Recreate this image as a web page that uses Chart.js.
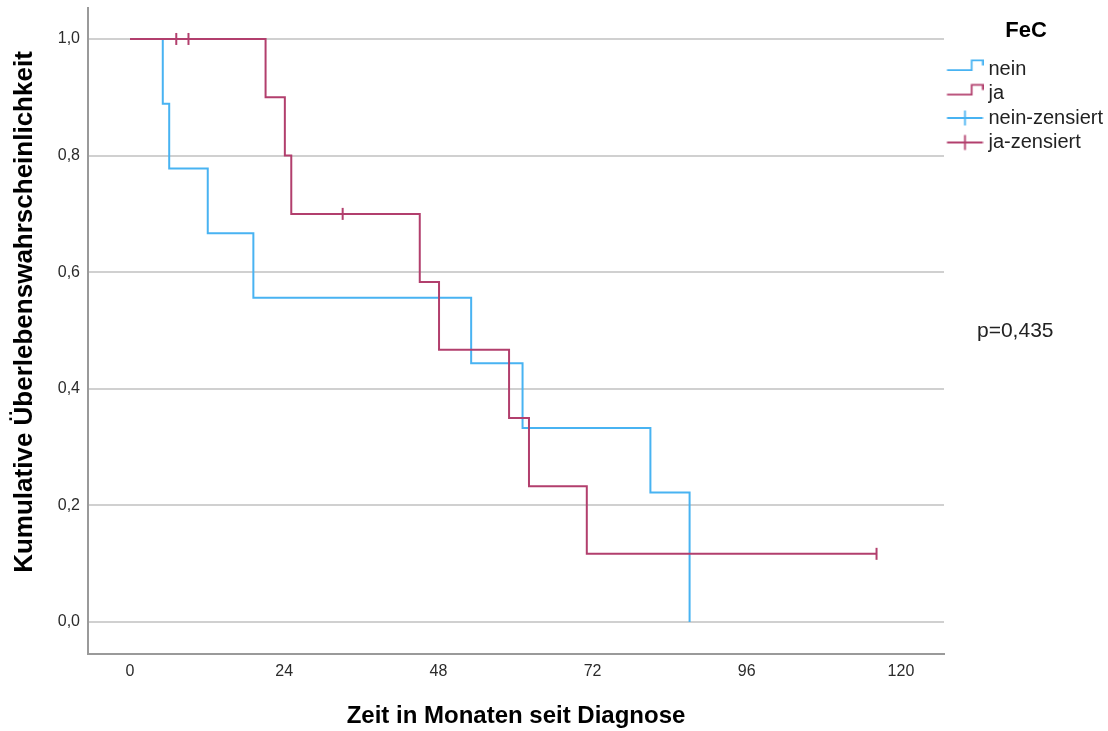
<!DOCTYPE html>
<html lang="de">
<head>
<meta charset="utf-8">
<title>Überlebensfunktionen nach FeC</title>
<script src="https://cdn.jsdelivr.net/npm/chart.js@4.4.1/dist/chart.umd.min.js"></script>
<style>
  html, body { margin: 0; padding: 0; background: #ffffff; }
  #wrap { width: 1108px; height: 731px; }
</style>
</head>
<body>
<div id="wrap"><canvas id="km" width="1108" height="731"></canvas></div>
<script>
// Gruppe "nein": Ereigniszeitpunkte (Monate) und kumulatives Überleben nach jedem Schritt
const neinTimes = [0, 5.1, 6.1, 12.1, 19.2, 53.1, 61.1, 81.0, 87.1];
const neinSurvival = [1, 0.889, 0.778, 0.667, 0.556, 0.444, 0.333, 0.222, 0];
const neinCensoredTimes = [];
const neinCensoredSurvival = [];

// Gruppe "ja"
const jaTimes = [0, 21.1, 24.1, 25.1, 45.1, 48.1, 59.0, 62.1, 71.1, 116.2];
const jaSurvival = [1, 0.9, 0.8, 0.7, 0.583, 0.467, 0.35, 0.233, 0.117, 0.117];
const jaCensoredTimes = [7.2, 9.1, 33.1, 116.2];
const jaCensoredSurvival = [1, 1, 0.7, 0.117];

// Achsen
const xTickValues = [0, 24, 48, 72, 96, 120];
const yTickValues = [0, 0.2, 0.4, 0.6, 0.8, 1.0];
const xTitle = 'Zeit in Monaten seit Diagnose';
const yTitle = 'Kumulative Überlebenswahrscheinlichkeit';
const legendTitle = 'FeC';
const legendLabels = ['nein', 'ja', 'nein-zensiert', 'ja-zensiert'];
const pValueText = 'p=0,435';

const COLOR_NEIN = '#48B3F2';
const COLOR_JA = '#B23F6D';
const FONT = '"Liberation Sans", Arial, Helvetica, sans-serif';

function toPoints(xs, ys) {
  return xs.map((x, i) => ({ x: x, y: ys[i] }));
}

// Legendensymbol für eine Treppenkurve
function stepIcon(color) {
  const c = document.createElement('canvas');
  c.width = 40; c.height = 24;
  const g = c.getContext('2d');
  g.strokeStyle = color;
  g.lineWidth = 1.8;
  g.beginPath();
  g.moveTo(3.5, 13.2);
  g.lineTo(28.2, 13.2);
  g.lineTo(28.2, 3.4);
  g.lineTo(39.3, 3.4);
  g.lineTo(39.3, 8.6);
  g.stroke();
  return c;
}

// Legendensymbol für zensierte Fälle
function censorIcon(color) {
  const c = document.createElement('canvas');
  c.width = 40; c.height = 24;
  const g = c.getContext('2d');
  g.strokeStyle = color;
  g.lineWidth = 1.8;
  g.beginPath();
  g.moveTo(3.5, 12);
  g.lineTo(39.3, 12);
  g.moveTo(21.5, 4.5);
  g.lineTo(21.5, 19.5);
  g.stroke();
  return c;
}

// Achsentitel links und p-Wert rechts neben dem Diagramm
const annotations = {
  id: 'kmAnnotations',
  afterDraw(chart) {
    const { ctx, chartArea } = chart;
    ctx.save();
    ctx.fillStyle = '#000000';
    ctx.font = 'bold 26px ' + FONT;
    ctx.textAlign = 'center';
    ctx.textBaseline = 'middle';
    ctx.translate(25, (chartArea.top + chartArea.bottom) / 2 - 19);
    ctx.rotate(-Math.PI / 2);
    ctx.fillText(yTitle, 0, 0);
    ctx.restore();

    ctx.save();
    ctx.fillStyle = '#222222';
    ctx.font = '21px ' + FONT;
    ctx.textAlign = 'left';
    ctx.textBaseline = 'middle';
    ctx.fillText(pValueText, chartArea.right + 33, 331);
    ctx.restore();
  }
};

const lineBase = {
  showLine: true,
  stepped: 'before',
  borderWidth: 2,
  pointRadius: 0,
  pointHoverRadius: 0,
  fill: false
};

const censorBase = {
  showLine: false,
  pointStyle: 'line',
  rotation: 90,
  pointRadius: 6,
  pointHoverRadius: 6,
  pointBorderWidth: 2
};

new Chart(document.getElementById('km'), {
  type: 'scatter',
  data: {
    datasets: [
      Object.assign({}, lineBase, {
        label: 'ja', data: toPoints(jaTimes, jaSurvival), borderColor: COLOR_JA
      }),
      Object.assign({}, censorBase, {
        label: 'ja-zensiert', data: toPoints(jaCensoredTimes, jaCensoredSurvival),
        borderColor: COLOR_JA, pointBorderColor: COLOR_JA, backgroundColor: COLOR_JA
      }),
      Object.assign({}, lineBase, {
        label: 'nein', data: toPoints(neinTimes, neinSurvival), borderColor: COLOR_NEIN
      }),
      Object.assign({}, censorBase, {
        label: 'nein-zensiert', data: toPoints(neinCensoredTimes, neinCensoredSurvival),
        borderColor: COLOR_NEIN, pointBorderColor: COLOR_NEIN, backgroundColor: COLOR_NEIN
      })
    ]
  },
  options: {
    responsive: false,
    animation: false,
    devicePixelRatio: 1,
    layout: { padding: { top: 3, right: 0, bottom: 0, left: 0 } },
    scales: {
      x: {
        type: 'linear',
        min: -6.54,
        max: 126.7,
        afterBuildTicks: (scale) => { scale.ticks = xTickValues.map(v => ({ value: v })); },
        afterFit: (scale) => { scale.height = 77; scale.paddingLeft = 0; scale.paddingRight = 0; },
        ticks: {
          padding: 8,
          color: '#2b2b2b',
          font: { family: FONT, size: 16 },
          maxRotation: 0,
          callback: (v) => String(v)
        },
        grid: { drawOnChartArea: false, drawTicks: false },
        border: { display: true, color: '#9a9a9a', width: 2 },
        title: {
          display: true,
          text: xTitle,
          color: '#000000',
          font: { family: FONT, size: 24, weight: 'bold' },
          padding: { top: 0, bottom: 0 }
        }
      },
      y: {
        type: 'linear',
        min: -0.0548,
        max: 1.0531,
        afterBuildTicks: (scale) => { scale.ticks = yTickValues.map(v => ({ value: v })); },
        afterFit: (scale) => { scale.width = 88; scale.paddingTop = 0; scale.paddingBottom = 0; },
        ticks: {
          padding: 8,
          color: '#2b2b2b',
          font: { family: FONT, size: 16 },
          callback: (v) => v.toFixed(1).replace('.', ',')
        },
        grid: { color: '#d0d0d0', lineWidth: 2, drawTicks: false },
        border: { display: true, color: '#9a9a9a', width: 2 }
      }
    },
    plugins: {
      tooltip: { enabled: false },
      legend: {
        position: 'right',
        align: 'start',
        maxWidth: 164,
        title: {
          display: true,
          text: legendTitle,
          color: '#000000',
          font: { family: FONT, size: 22, weight: 'bold' },
          padding: { top: 16.8, bottom: 8.3 }
        },
        labels: {
          usePointStyle: true,
          pointStyleWidth: 30,
          padding: 4.5,
          color: '#222222',
          font: { family: FONT, size: 20 },
          generateLabels: () => [
            { text: legendLabels[0], pointStyle: stepIcon(COLOR_NEIN), datasetIndex: 2 },
            { text: legendLabels[1], pointStyle: stepIcon(COLOR_JA), datasetIndex: 0 },
            { text: legendLabels[2], pointStyle: censorIcon(COLOR_NEIN), datasetIndex: 3 },
            { text: legendLabels[3], pointStyle: censorIcon(COLOR_JA), datasetIndex: 1 }
          ].map(item => Object.assign(item, {
            hidden: false, rotation: 0, lineWidth: 0,
            fillStyle: 'rgba(0,0,0,0)', strokeStyle: 'rgba(0,0,0,0)', fontColor: '#222222'
          }))
        }
      }
    }
  },
  plugins: [annotations]
});
</script>
</body>
</html>
